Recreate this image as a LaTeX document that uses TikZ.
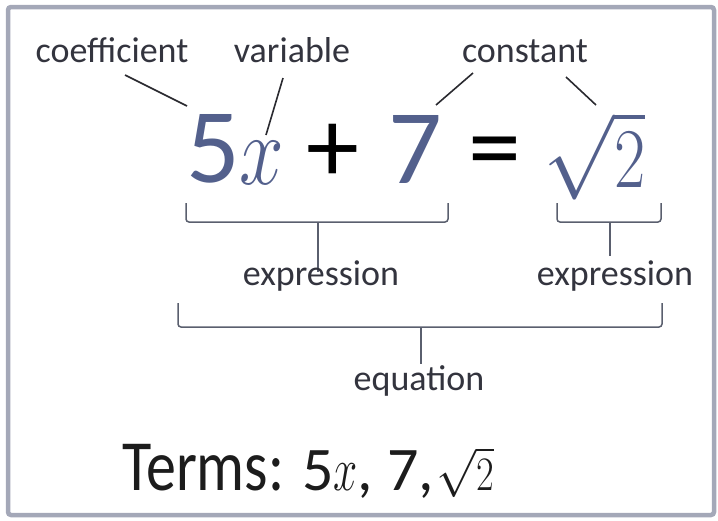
\RequirePackage{fix-cm}
\documentclass[tikz,border=0pt]{standalone}
\usepackage[no-math]{fontspec}
\setmainfont{Carlito}
\usepackage{graphicx}
\definecolor{slate}{HTML}{53608C}
\definecolor{labelgray}{HTML}{33343E}
\definecolor{linegray}{HTML}{2A2A30}
\definecolor{bracegray}{HTML}{5A5F6E}
\definecolor{framecol}{HTML}{A4A8B8}
\definecolor{termcol}{HTML}{1C1C1C}
\newcommand{\narrowtwo}{\mbox{\scalebox{0.8}[1]{$2$}}}
\begin{document}
\begin{tikzpicture}[x=1pt,y=-1pt,
  lbl/.style={anchor=base,inner sep=0pt,text=labelgray,font=\fontsize{36}{36}\selectfont},
  eqn/.style={anchor=base,inner sep=0pt,font=\fontsize{106}{106}\selectfont},
  leader/.style={draw=linegray,line width=1.6pt},
  bracket/.style={draw=bracegray,line width=1.5pt,rounded corners=3pt},
  tick/.style={draw=bracegray,line width=1.5pt}]
\useasboundingbox (0,0) rectangle (718,520);
\draw[framecol,line width=4.5pt,rounded corners=3pt] (8,7) rectangle (714,515);

% top labels
\node[lbl] (coef) at (112,62) {coefficient};
\node[lbl] (var) at (292,62) {variable};
\node[lbl] (const) at (525,62) {constant};

% equation
\node[eqn,text=slate] (five) at (213,182) {5};
\node[anchor=base,inner sep=0pt,text=slate,font=\fontsize{100}{100}\selectfont] (xvar) at (262,184) {\scalebox{0.8}[1]{$x$}};
\node[eqn,text=black] (plus) at (333,182) {+};
\node[eqn,text=slate] (seven) at (415,183) {7};
\node[eqn,text=black] (eq) at (495,182) {=};
\node[anchor=base west,inner sep=0pt,text=slate,font=\fontsize{85}{85}\selectfont] (root) at (543,187) {$\sqrt{\narrowtwo}$};

% leader lines
\coordinate (coefA) at (125,75); \coordinate (coefB) at (187,106);
\coordinate (varA) at (283,78);  \coordinate (varB) at (266,135);
\coordinate (constA) at (473,73); \coordinate (constB) at (436,105);
\coordinate (constC) at (566,77); \coordinate (constD) at (596,105);
\draw[leader] (coefA) -- (coefB);
\draw[leader] (varA) -- (varB);
\draw[leader] (constA) -- (constB);
\draw[leader] (constC) -- (constD);

% brackets
\coordinate (b1L) at (186,203); \coordinate (b1R) at (448,203);
\coordinate (b1M) at (318,222); \coordinate (b1T) at (318,272);
\draw[bracket] (b1L) -- (186,222) -- (448,222) -- (b1R);
\draw[tick] (b1M) -- (b1T);
\node[lbl] (expr1) at (321,285) {expression};

\coordinate (b2L) at (557,203); \coordinate (b2R) at (661,203);
\coordinate (b2M) at (610,222); \coordinate (b2T) at (610,256);
\draw[bracket] (b2L) -- (557,222) -- (661,222) -- (b2R);
\draw[tick] (b2M) -- (b2T);
\node[lbl] (expr2) at (615,285) {expression};

\coordinate (b3L) at (178,303); \coordinate (b3R) at (662,303);
\coordinate (b3M) at (421,327); \coordinate (b3T) at (421,364);
\draw[bracket] (b3L) -- (178,327) -- (662,327) -- (b3R);
\draw[tick] (b3M) -- (b3T);
\node[lbl] (equation) at (419,390) {equation};

% terms line
\node[anchor=base west,inner sep=0pt,text=termcol,font=\fontsize{60}{60}\selectfont] (terms) at (122,490) {\scalebox{1}[1.2]{Terms:}};
\node[anchor=base west,inner sep=0pt,text=termcol,font=\fontsize{62}{62}\selectfont] (termlist) at (302,490) {5\scalebox{0.7}[1]{$x$}, 7,\hspace{2pt}{\fontsize{48}{48}\selectfont$\sqrt{\narrowtwo}$}};
\end{tikzpicture}
\end{document}
